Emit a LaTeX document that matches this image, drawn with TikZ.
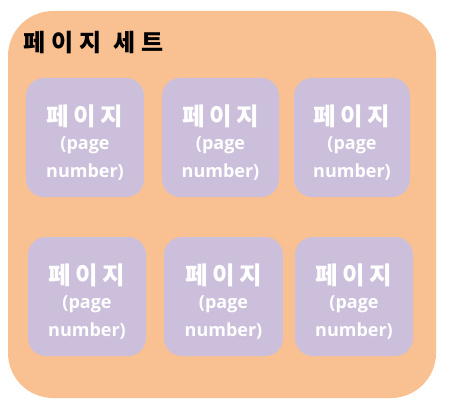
\documentclass[tikz,border=0pt]{standalone}
\usepackage{fontspec}
\usepackage{xcolor}
\setmainfont{Open Sans}
\newfontfamily\krfont{Noto Sans CJK KR}[LetterSpace=18]
\newfontfamily\krtitlefont{Noto Sans CJK KR}[LetterSpace=25]
\definecolor{setorange}{HTML}{F9C192}
\definecolor{pagelilac}{HTML}{CBBFDB}
\tikzset{
  pagebox/.style={fill=pagelilac, rounded corners=18pt, minimum width=118pt,
    minimum height=119pt, align=center, text=white, inner sep=0pt,
    font=\bfseries\fontsize{18}{24}\selectfont},
}
\newcommand{\pagelines}{\krfont\fontsize{24.5}{24}\selectfont\rule{0pt}{30pt}페이지\\%
  (page\\[4pt] number)}

\begin{document}
\begin{tikzpicture}[x=1pt,y=-1pt]
\useasboundingbox (0,0) rectangle (452,409);
%
\fill[setorange, rounded corners=45pt] (8,11) rectangle (436,398);
\node[anchor=west, font=\krtitlefont\bfseries\fontsize{24}{26}\selectfont] (title) at (20,43) {페이지 세트};
%
\node[pagebox] (p1) at (85,137.5) {\pagelines};
\node[pagebox, minimum width=117pt] (p2) at (220.5,137.5) {\pagelines};
\node[pagebox, minimum width=116pt] (p3) at (352,137.5) {\pagelines};
%
\node[pagebox] (p4) at (87,296.5) {\pagelines};
\node[pagebox, minimum width=119pt] (p5) at (223.5,296.5) {\pagelines};
\node[pagebox] (p6) at (354,296.5) {\pagelines};
\end{tikzpicture}
\end{document}
